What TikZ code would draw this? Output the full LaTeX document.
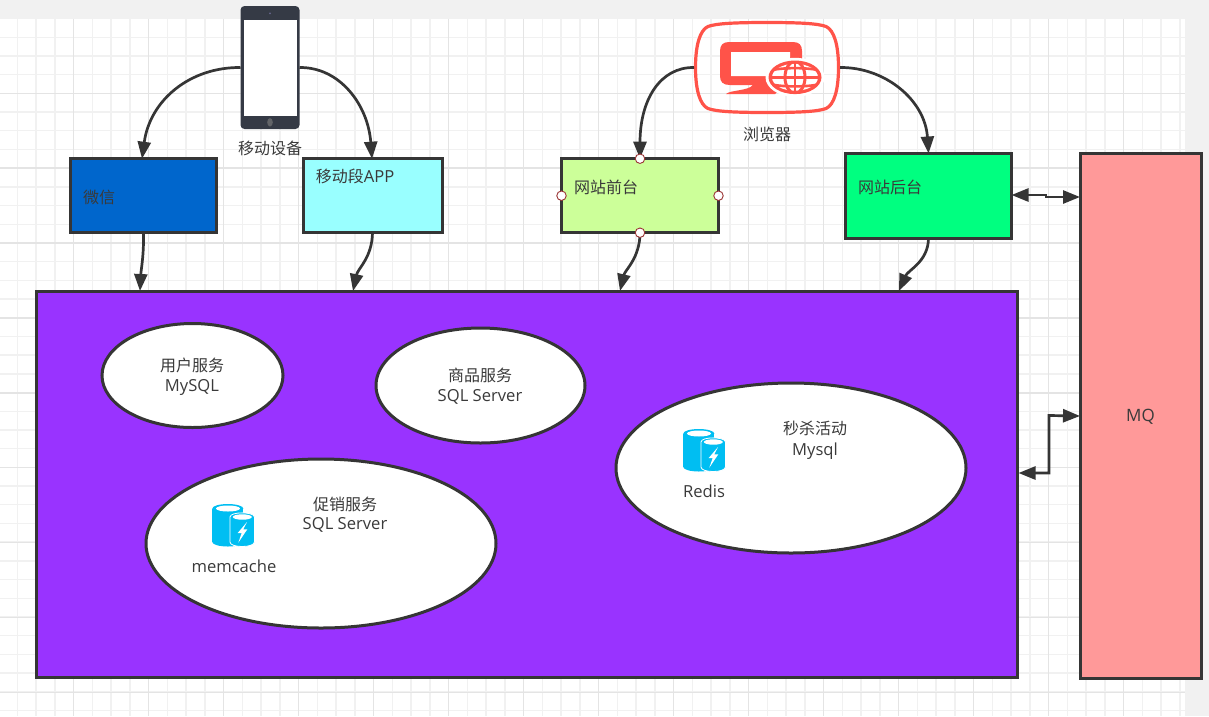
\documentclass[tikz,border=0pt]{standalone}
\usepackage{fontspec}
\setmainfont{Noto Sans CJK SC}
\newfontfamily\latinfont{Open Sans}
\newcommand{\lat}[1]{{\fontsize{16.6}{19}\selectfont\latinfont #1}}
\usetikzlibrary{arrows.meta,calc,shapes.geometric}
\definecolor{ink}{HTML}{3A3A3A}
\definecolor{lineink}{HTML}{353535}
\definecolor{pagebg}{HTML}{F1F1F1}
\definecolor{gridminor}{HTML}{F1F1F1}
\definecolor{gridmajor}{HTML}{E4E4E4}
\definecolor{phonedark}{HTML}{353A45}
\definecolor{browserred}{HTML}{FF5349}
\definecolor{dbblue}{HTML}{00BEF2}
\tikzset{
  box/.style={draw=lineink,line width=3pt,rectangle,outer sep=0pt,inner sep=0pt},
  oval/.style={draw=lineink,line width=3pt,ellipse,fill=white,outer sep=0pt,inner sep=0pt},
  txt/.style={text=ink,font=\fontsize{16}{19}\selectfont,inner sep=0pt,outer sep=0pt,align=center},
  conn/.style={draw=lineink,line width=2.7pt,-{Triangle[length=17pt,width=13pt]}},
  dconn/.style={draw=lineink,line width=2.7pt,{Triangle[length=17pt,width=13pt]}-{Triangle[length=17pt,width=13pt]}},
  port/.style={circle,draw=red!50!black!80,fill=white,line width=0.9pt,minimum size=9.5pt,inner sep=0pt,outer sep=0pt},
  dbicon/.pic={
    \fill[dbblue] (15.8,4.5) ellipse[x radius=15.5,y radius=4.5];
    \fill[dbblue] (15.8,38) ellipse[x radius=15.5,y radius=4.5];
    \fill[dbblue] (0.3,4.5) rectangle (31.3,38);
    \fill[white] (16,4.5) ellipse[x radius=12,y radius=3];
    \filldraw[fill=dbblue,draw=white,line width=0.8pt] (18,13) -- (18,38)
       .. controls (18,44) and (42.4,44) .. (42.4,38) -- (42.4,13)
       .. controls (42.4,7.5) and (18,7.5) .. (18,13) -- cycle;
    \fill[white] (30.3,13) ellipse[x radius=9.5,y radius=2.7];
    \fill[white] (35,18) -- (25.7,29) -- (29.7,29) -- (26.3,38.7) -- (35.3,25.3) -- (31.3,25.3) -- cycle;
  }
}
\begin{document}
\begin{tikzpicture}[x=1pt,y=-1pt]
\useasboundingbox (0,0) rectangle (1209,716);
% page and grid
\fill[pagebg] (0,0) rectangle (1209,716);
\fill[white] (0,19) rectangle (1185,716);
\foreach \i in {0,...,63}{
  \pgfmathsetmacro{\xx}{-1.45+18.75*\i}
  \draw[gridminor,line width=1.4pt] (\xx,18.5) -- (\xx,716);
}
\foreach \i in {0,...,37}{
  \pgfmathsetmacro{\yy}{18.5+18.7*\i}
  \draw[gridminor,line width=1.4pt] (0,\yy) -- (1185,\yy);
}
\foreach \i in {0,...,14}{
  \pgfmathsetmacro{\xx}{73.5+75*\i}
  \draw[gridmajor,line width=1.4pt] (\xx,18.5) -- (\xx,716);
}
\foreach \i in {0,...,8}{
  \pgfmathsetmacro{\yy}{93.2+74.9*\i}
  \draw[gridmajor,line width=1.4pt] (0,\yy) -- (1185,\yy);
}
% boxes
\node[box,fill={rgb,255:red,0;green,102;blue,204},minimum width=146pt,minimum height=74pt] (wx) at (143.5,195.7) {};
\node[box,fill={rgb,255:red,153;green,255;blue,255},minimum width=139pt,minimum height=74pt] (app) at (372.5,195.7) {};
\node[box,fill={rgb,255:red,204;green,255;blue,153},minimum width=157pt,minimum height=74pt] (front) at (640,195.7) {};
\node[box,fill={rgb,255:red,0;green,255;blue,128},minimum width=166pt,minimum height=85pt] (back) at (928.5,196) {};
\node[box,fill={rgb,255:red,255;green,153;blue,153},minimum width=121pt,minimum height=525pt] (mq) at (1140.5,416) {};
\node[box,fill={rgb,255:red,153;green,51;blue,255},minimum width=981pt,minimum height=386pt] (svc) at (526.5,484) {};
% ovals
\node[oval,minimum width=181pt,minimum height=104pt] (user) at (192.5,375.5) {};
\node[oval,minimum width=209pt,minimum height=115pt] (goods) at (480.5,385.5) {};
\node[oval,minimum width=350pt,minimum height=170pt] (seckill) at (791,468) {};
\node[oval,minimum width=350pt,minimum height=169pt] (promo) at (321,543.5) {};
% phone
\node[rectangle,fill=phonedark,rounded corners=4pt,minimum width=59pt,minimum height=123pt,inner sep=0pt,outer sep=0pt] (phone) at (270,67.5) {};
\fill[white] (243.5,19.5) rectangle (297,115.5);
\fill[black!75!blue!60] (270,13.3) circle (1pt);
\fill[gray!60!phonedark] (270,122.3) ellipse[x radius=2.8,y radius=4.2];
% browser icon
\node[rectangle,minimum width=146pt,minimum height=93pt,inner sep=0pt,outer sep=0pt] (browser) at (767,67.5) {};
\draw[browserred,line width=3.2pt,line join=round] (767,22.5)
  .. controls (800,22.5) and (818,23.5) .. (826,26.5)
  .. controls (834,30) and (838.5,45) .. (838.5,67.5)
  .. controls (838.5,90) and (834,105) .. (826,108.5)
  .. controls (818,111.5) and (800,112.5) .. (767,112.5)
  .. controls (734,112.5) and (716,111.5) .. (708,108.5)
  .. controls (700,105) and (695.5,90) .. (695.5,67.5)
  .. controls (695.5,45) and (700,30) .. (708,26.5)
  .. controls (716,23.5) and (734,22.5) .. (767,22.5) -- cycle;
\fill[browserred] (720,51) .. controls (720,45) and (723,42) .. (729,42) -- (793,42)
  .. controls (799,42) and (802,45) .. (802,51) -- (802,70) -- (775,94) -- (726,94)
  .. controls (730,90) and (748,91) .. (753,85) -- (730,85)
  .. controls (723,85) and (720,82) .. (720,76) -- cycle;
\fill[white] (731,52) -- (790,52) -- (790,62) -- (768,76) -- (731,76) -- cycle;
\fill[white] (795,77.3) ellipse[x radius=29.5,y radius=19.5];
\begin{scope}
\fill[browserred] (795,77.3) ellipse[x radius=26.5,y radius=16.8];
\fill[white] (795,77.3) ellipse[x radius=23,y radius=13.5];
\clip (795,77.3) ellipse[x radius=25,y radius=15.2];
\draw[browserred,line width=3pt] (795,77.3) ellipse[x radius=10,y radius=16];
\draw[browserred,line width=3pt] (770,77.3) -- (820,77.3);
\draw[browserred,line width=2.6pt] (795,60) -- (795,95);
\draw[browserred,line width=2.6pt] (772,70) .. controls (785,67.5) and (805,67.5) .. (818,70);
\draw[browserred,line width=2.6pt] (772,84.6) .. controls (785,87) and (805,87) .. (818,84.6);
\end{scope}
% database icons
\pic at (212,504) {dbicon};
\pic at (683,429) {dbicon};
% labels
\node[txt] (tphone) at (270,148) {移动设备};
\node[txt] (tbrowser) at (767,134) {浏览器};
\node[txt] (twx) at (99,197) {微信};
\node[txt] (tapp) at (355,176.5) {移动段\lat{APP}};
\node[txt] (tfront) at (606,187.5) {网站前台};
\node[txt] (tback) at (890,187.5) {网站后台};
\node[txt,font=\fontsize{17}{19}\latinfont] (tmq) at (1140.5,416.5) {MQ};
\node[txt] (tuser) at (192,376.5) {用户服务\\[1pt]\lat{MySQL}};
\node[txt] (tgoods) at (480,386.5) {商品服务\\[1pt]\lat{SQL Server}};
\node[txt] (tsec) at (815,440) {秒杀活动\\[2pt]\lat{Mysql}};
\node[txt] (tpromo) at (345,515) {促销服务\\\lat{SQL Server}};
\node[txt] (tredis) at (704,491) {\lat{Redis}};
\node[txt] (tmem) at (234,566) {\lat{memcache}};
% connectors
\draw[conn] (phone.west) .. controls (190,67) and (150,100) .. ([xshift=-1.5pt]wx.north);
\draw[conn] (phone.east) .. controls (340,67) and (368,105) .. ([xshift=-0.5pt]app.north);
\draw[conn] (browser.west) .. controls (660,67) and (640,100) .. (front.north);
\draw[conn] (browser.east) .. controls (885,67) and (925,100) .. (back.north);
\draw[conn] (wx.south) .. controls (144,255) and (141,270) .. ([xshift=104pt]svc.north west);
\draw[conn] (app.south) .. controls (372,258) and (358,268) .. ([xshift=317pt]svc.north west);
\draw[conn] (front.south) .. controls (640,258) and (625,270) .. ([xshift=584pt]svc.north west);
\draw[conn] (back.south) .. controls (928,262) and (908,270) .. ([xshift=863pt]svc.north west);
\draw[dconn] ([yshift=1pt]back.east) -- (1046,195) -- (1046,197) -- ([yshift=219pt]mq.west);
\draw[dconn] ([xshift=1.5pt,yshift=11pt]svc.east) -- (1049,473) -- (1049,415.5) -- (mq.west);
% ports
\node[port] (p1) at (front.north) {};
\node[port] (p2) at (front.south) {};
\node[port] (p3) at (front.west) {};
\node[port] (p4) at (front.east) {};
\end{tikzpicture}
\end{document}
